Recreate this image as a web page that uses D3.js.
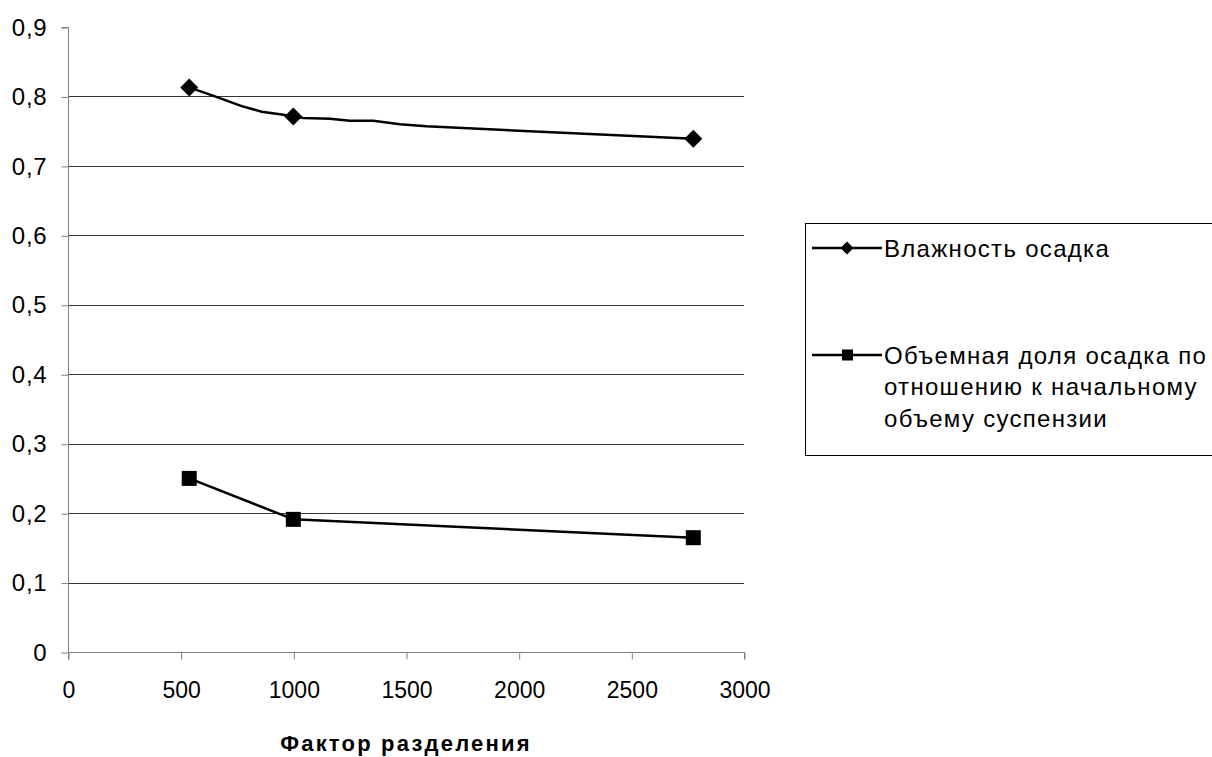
<!DOCTYPE html>
<html><head><meta charset="utf-8">
<script src="https://cdn.jsdelivr.net/npm/d3@7"></script>
<style>
html,body{margin:0;padding:0;background:#fff;}
svg{display:block;}
text{font-family:"Liberation Sans",Arial,sans-serif;fill:#000;}
</style></head>
<body>
<script>
// ---- data ----
const xTicks = [0, 500, 1000, 1500, 2000, 2500, 3000];
const yTicks = [0, 0.1, 0.2, 0.3, 0.4, 0.5, 0.6, 0.7, 0.8, 0.9];
const seriesNames = ["Влажность осадка", "Объемная доля осадка по отношению к начальному объему суспензии"];
const legendLines2 = ["Объемная доля осадка по", "отношению к начальному", "объему суспензии"];
const xTitle = "Фактор разделения";
// moisture series: polyline points (markers only at measured points)
const moistureLineX = [538, 652, 771, 860, 948, 1000, 1044, 1163, 1251, 1355, 1473, 1590, 2775];
const moistureLineY = [0.813, 0.800, 0.786, 0.778, 0.774, 0.771, 0.769, 0.768, 0.765, 0.765, 0.760, 0.757, 0.739];
const moistureMarkX = [538, 1000, 2775];
const moistureMarkY = [0.813, 0.771, 0.739];
// volume fraction series
const volumeX = [538, 1000, 2775];
const volumeY = [0.250, 0.191, 0.1646];

const W = 1212, H = 757;
const svg = d3.select("body").append("svg").attr("width", W).attr("height", H);
const L = 68, R = 744, T = 27, B = 652;
const x = d3.scaleLinear().domain([0, 3000]).range([L, R]);
const y = d3.scaleLinear().domain([0, 0.9]).range([B, T]);
const fmt = d => String(+d.toFixed(1)).replace(".", ",");

// gridlines
svg.append("g").selectAll("line").data(yTicks.filter(d => d > 0 && d < 0.9)).join("line")
  .attr("x1", L).attr("x2", R)
  .attr("y1", d => Math.round(y(d)) + 0.5).attr("y2", d => Math.round(y(d)) + 0.5)
  .attr("stroke", "#333").attr("stroke-width", 1);

// y axis
const yAxis = svg.append("g").attr("transform", `translate(${L + 0.5},0.5)`)
  .call(d3.axisLeft(y).tickValues(yTicks).tickFormat(fmt).tickSize(7).tickPadding(14));
yAxis.select(".domain").attr("stroke", "#808080").attr("d", `M-7,${T}H0V${B}`);
yAxis.selectAll(".tick line").attr("stroke", "#808080");
yAxis.selectAll(".tick text").attr("font-size", 24).attr("letter-spacing", 0.8)
  .attr("font-family", "Liberation Sans, Arial, sans-serif").attr("fill", "#000");

// x axis
const xAxis = svg.append("g").attr("transform", `translate(0.5,${B + 0.5})`)
  .call(d3.axisBottom(x).tickValues(xTicks).tickFormat(d => String(d)).tickSize(7).tickPadding(22));
xAxis.select(".domain").attr("stroke", "#808080").attr("d", `M${L},7V0H${R}V7`);
xAxis.selectAll(".tick line").attr("stroke", "#808080");
xAxis.selectAll(".tick text").attr("font-size", 23).attr("font-family", "Liberation Sans, Arial, sans-serif").attr("fill", "#000");

// x title
svg.append("text").attr("x", (L + R) / 2).attr("y", 751).attr("text-anchor", "middle")
  .attr("font-size", 22).attr("font-weight", "bold").attr("letter-spacing", 2.2).text(xTitle);

// lines
const line = d3.line().x(d => x(d[0])).y(d => y(d[1]));
const m1 = moistureLineX.map((v, i) => [v, moistureLineY[i]]);
const v2 = volumeX.map((v, i) => [v, volumeY[i]]);
svg.append("path").datum(m1).attr("d", line).attr("fill", "none").attr("stroke", "#000").attr("stroke-width", 2.5).attr("stroke-linejoin", "round");
svg.append("path").datum(v2).attr("d", line).attr("fill", "none").attr("stroke", "#000").attr("stroke-width", 2.5);

const diamond = s => `M0,${-s}L${s},0L0,${s}L${-s},0Z`;
svg.append("g").selectAll("path").data(moistureMarkX.map((v, i) => [v, moistureMarkY[i]])).join("path")
  .attr("transform", d => `translate(${x(d[0])},${y(d[1])})`).attr("d", diamond(9)).attr("fill", "#000");
svg.append("g").selectAll("rect").data(v2).join("rect")
  .attr("x", d => x(d[0]) - 7.5).attr("y", d => y(d[1]) - 7.5).attr("width", 15).attr("height", 15).attr("fill", "#000");

// legend
const lg = svg.append("g");
lg.append("rect").attr("x", 805.5).attr("y", 223.5).attr("width", 430).attr("height", 232)
  .attr("fill", "#fff").attr("stroke", "#000").attr("stroke-width", 1);
const items = [{y: 248, type: "d", lines: [seriesNames[0]]}, {y: 355, type: "s", lines: legendLines2}];
items.forEach(it => {
  lg.append("line").attr("x1", 812).attr("x2", 882).attr("y1", it.y).attr("y2", it.y).attr("stroke", "#000").attr("stroke-width", 2.5);
  if (it.type === "d") lg.append("path").attr("transform", `translate(847,${it.y})`).attr("d", diamond(6.5)).attr("fill", "#000");
  else lg.append("rect").attr("x", 842).attr("y", it.y - 5.5).attr("width", 11).attr("height", 11).attr("fill", "#000");
  it.lines.forEach((t, j) => {
    lg.append("text").attr("x", 884).attr("y", it.y + 8.5 + j * 31.5).attr("font-size", 24).attr("letter-spacing", 1.3).text(t);
  });
});
</script>
</body></html>
